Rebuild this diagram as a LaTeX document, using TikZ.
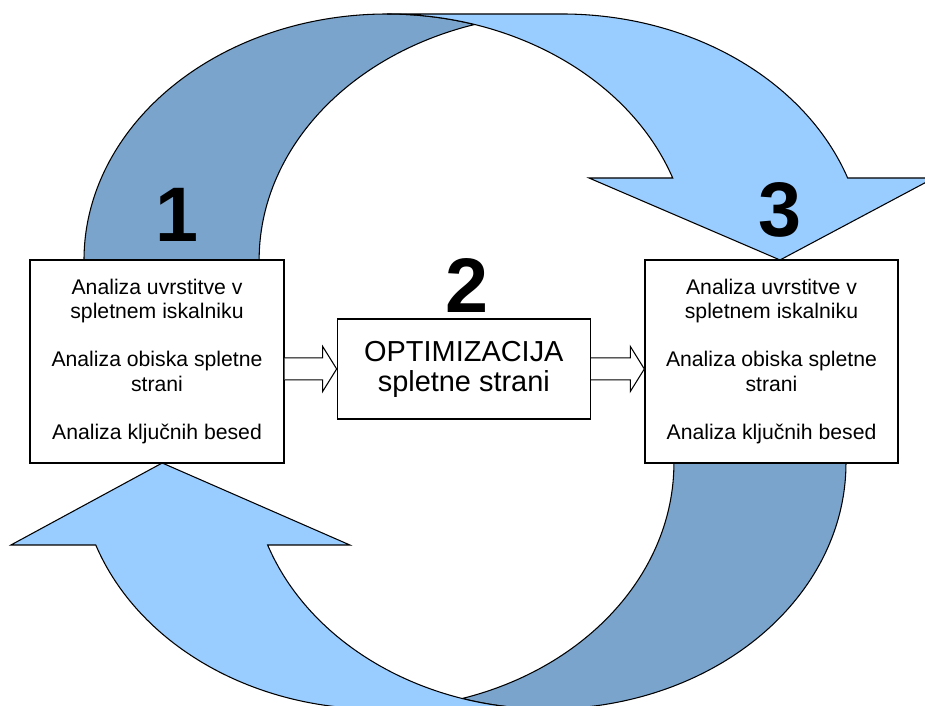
\documentclass[tikz,border=0pt]{standalone}
\usepackage{fontspec}
\setmainfont{Liberation Sans}
\usepackage{xcolor}
\usetikzlibrary{positioning}
\usetikzlibrary{calc}
\definecolor{backblue}{RGB}{122,164,204}
\definecolor{frontblue}{RGB}{153,204,255}
\tikzstyle{back}=[fill=backblue, draw=black, line width=0.8pt]
\tikzstyle{front}=[fill=frontblue, draw=black, line width=0.8pt]
\tikzstyle{box}=[draw=black, fill=white, line width=1pt, align=center, inner sep=0pt, font=\fontsize{15.9}{18.15}\selectfont]
\tikzstyle{hollow}=[draw=black, fill=white, line width=0.8pt]
\tikzstyle{digit}=[font=\fontsize{58}{60}\selectfont\bfseries, anchor=base, inner sep=0pt]

% curved band: dark back part, light front part with its head
\newcommand{\bentarrow}{%
  \draw[back] (84,446) arc[start angle=180, end angle=73.2, x radius=303, y radius=246]
    arc[start angle=106.8, end angle=180, x radius=303, y radius=246] -- cycle;
  \draw[front] (780,446) -- (589,528) -- (672.7,528)
    arc[start angle=19.47, end angle=90, x radius=303, y radius=246] -- (562,692)
    arc[start angle=90, end angle=19.47, x radius=303, y radius=246] -- (934,528) -- cycle;
}

\begin{document}
\begin{tikzpicture}[x=0.75pt, y=0.75pt]
  \useasboundingbox (0,0) rectangle (925,706);
  \clip (0,0) rectangle (925,706);

  % upper arrow and the lower one turned round
  \bentarrow
  \begin{scope}[shift={(928.5,689)}, xscale=-0.9824, yscale=-1]
    \bentarrow
  \end{scope}

  \node[box, minimum width=190.5pt, minimum height=152.25pt] (leftbox) at (157,344.5)
    {Analiza uvrstitve v\\spletnem iskalniku\\[18pt]Analiza obiska spletne\\strani\\[18pt]Analiza ključnih besed};
  \node[box, minimum width=189.75pt, minimum height=75pt, font=\fontsize{21.7}{22.5}\selectfont,
    right=39pt of leftbox, yshift=-5.6pt] (midbox) {OPTIMIZACIJA\\spletne strani};
  \node[box, minimum width=189.75pt, minimum height=152.25pt, right=40pt of midbox, yshift=5.6pt] (rightbox)
    {Analiza uvrstitve v\\spletnem iskalniku\\[18pt]Analiza obiska spletne\\strani\\[18pt]Analiza ključnih besed};

  \foreach \a/\b in {leftbox/midbox, midbox/rightbox}
    \draw[hollow] ($(\a.east |- midbox.center)+(0,11)$) -- ($(\b.west |- midbox.center)+(-14,11)$)
      -- ++(0,11.5) -- (\b.west |- midbox.center) -- ++(-14,-22.5) -- ++(0,11.5)
      -- ($(\a.east |- midbox.center)+(0,-11)$);

  \node[digit] (one)   at (177,464) {1};
  \node[digit] (two)   at (467,393) {2};
  \node[digit] (three) at (780,469) {3};
\end{tikzpicture}
\end{document}
